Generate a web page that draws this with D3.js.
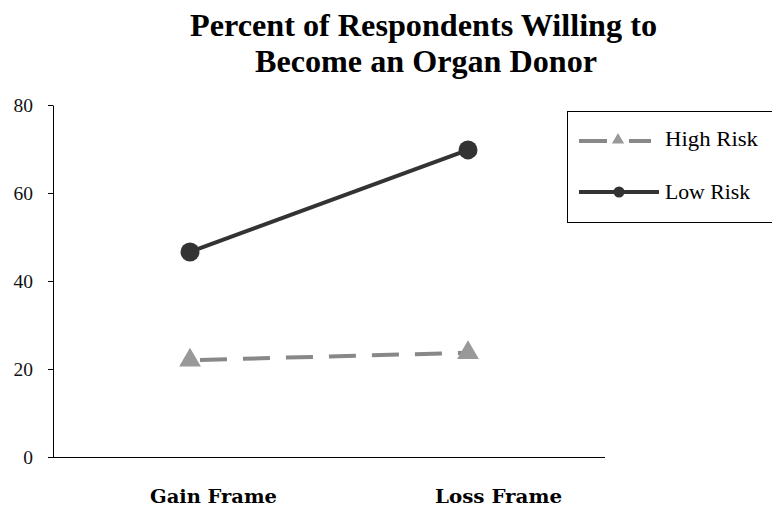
<!DOCTYPE html>
<html><head><meta charset="utf-8">
<script src="https://cdn.jsdelivr.net/npm/d3@7"></script>
<style>body{margin:0;background:#fff}svg{display:block}text{font-family:"Liberation Serif","Times New Roman",serif}</style>
</head><body>
<svg id="c" width="772" height="508"></svg>
<script>
const categories = ["Gain Frame", "Loss Frame"];
const highRisk = [22.0, 23.7];
const lowRisk = [46.6, 69.8];
const yTicks = [0, 20, 40, 60, 80];
const titleLines = ["Percent of Respondents Willing to", "Become an Organ Donor"];
const seriesNames = ["High Risk", "Low Risk"];

const svg = d3.select("#c");
const y = d3.scaleLinear().domain([0, 80]).range([457, 105]);
const xp = d3.scalePoint().domain(categories).range([190, 468]);
const xl = d3.scalePoint().domain(categories).range([213.5, 498.5]);

svg.selectAll("text.title").data(titleLines).enter().append("text")
  .attr("class","title")
  .attr("x", (d,i)=> i ? 426 : 423.5).attr("y", (d,i)=>36+i*36).attr("text-anchor","middle")
  .attr("textLength",(d,i)=> i ? 342 : 467).attr("lengthAdjust","spacingAndGlyphs")
  .style("font-size","31px").style("font-weight","bold").text(d=>d);

const ya = svg.append("g").attr("transform","translate(53,0)")
  .call(d3.axisLeft(y).tickValues(yTicks).tickSize(5).tickSizeOuter(0).tickPadding(15));
ya.select(".domain").attr("stroke","#000");
ya.selectAll("line").attr("stroke","#000");
ya.selectAll("text").style("font-size","19.5px").style("font-family","Liberation Serif, serif").attr("fill","#111");

svg.append("line").attr("x1",53).attr("x2",605).attr("y1",y(0)+0.5).attr("y2",y(0)+0.5).attr("stroke","#000");

svg.selectAll("text.cat").data(categories).enter().append("text")
  .attr("class","cat")
  .attr("x", d=>xl(d)).attr("y", 503).attr("text-anchor","middle")
  .attr("textLength",127).attr("lengthAdjust","spacingAndGlyphs")
  .style("font-family","DejaVu Serif, serif")
  .style("font-size","18px").style("font-weight","bold").text(d=>d);

const line = d3.line().x((d,i)=>xp(categories[i])).y(d=>y(d));
svg.append("path").datum(highRisk).attr("d",line).attr("fill","none")
  .attr("stroke","#888").attr("stroke-width",4).attr("stroke-dasharray","27,16").attr("stroke-dashoffset",-10);
svg.append("path").datum(lowRisk).attr("d",line).attr("fill","none")
  .attr("stroke","#333").attr("stroke-width",4);

const tri = d3.symbol().type(d3.symbolTriangle).size(205);
svg.selectAll("path.tri").data(highRisk).enter().append("path")
  .attr("class","tri")
  .attr("transform",(d,i)=>`translate(${xp(categories[i])},${y(d)})`)
  .attr("d",tri).attr("fill","#999");
svg.selectAll("circle.lo").data(lowRisk).enter().append("circle")
  .attr("class","lo")
  .attr("cx",(d,i)=>xp(categories[i])).attr("cy",d=>y(d)).attr("r",9.5).attr("fill","#333");

// legend
const lg = svg.append("g");
lg.append("rect").attr("x",567.5).attr("y",111.5).attr("width",220).attr("height",111)
  .attr("fill","#fff").attr("stroke","#000");
lg.append("line").attr("x1",579).attr("x2",607).attr("y1",141).attr("y2",141)
  .attr("stroke","#888").attr("stroke-width",4);
lg.append("line").attr("x1",629).attr("x2",651).attr("y1",141).attr("y2",141)
  .attr("stroke","#888").attr("stroke-width",4);
lg.append("path").attr("transform","translate(618,140)").attr("d",d3.symbol().type(d3.symbolTriangle).size(65)).attr("fill","#999");
lg.append("text").attr("x",665).attr("y",146).attr("textLength",93).attr("lengthAdjust","spacingAndGlyphs")
  .style("font-size","20.5px").text(seriesNames[0]);
lg.append("line").attr("x1",579).attr("x2",659).attr("y1",192).attr("y2",192)
  .attr("stroke","#333").attr("stroke-width",4);
lg.append("circle").attr("cx",619).attr("cy",192).attr("r",5.5).attr("fill","#333");
lg.append("text").attr("x",665).attr("y",199).attr("textLength",85).attr("lengthAdjust","spacingAndGlyphs")
  .style("font-size","20.5px").text(seriesNames[1]);
</script>
</body></html>
